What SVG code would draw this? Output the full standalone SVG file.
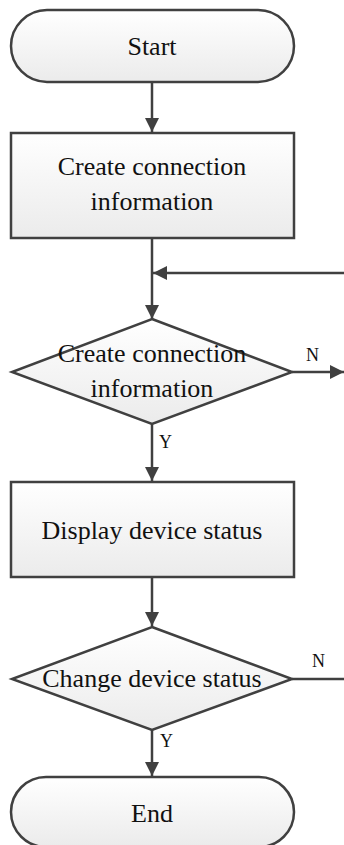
<svg xmlns="http://www.w3.org/2000/svg" width="344" height="845" viewBox="0 0 344 845">
<defs>
<linearGradient id="g" x1="0" y1="0" x2="0" y2="1">
<stop offset="0" stop-color="#ffffff"/>
<stop offset="1" stop-color="#ebebeb"/>
</linearGradient>
<marker id="ah" markerUnits="userSpaceOnUse" markerWidth="16" markerHeight="16" viewBox="0 0 16 16" refX="15" refY="8" orient="auto">
<path d="M1,1 L15,8 L1,15 Z" fill="#404040"/>
</marker>
<style>
.shape{fill:url(#g);stroke:#404040;stroke-width:2.5}
.t{font-family:"Liberation Serif","Times New Roman",serif;font-size:26px;fill:#111;text-anchor:middle}
.l{font-family:"Liberation Serif","Times New Roman",serif;font-size:18px;fill:#111}
.c{fill:none;stroke:#404040;stroke-width:2.5}
</style>
</defs>
<g id="connectors">
<line class="c" x1="152" y1="82" x2="152" y2="132" marker-end="url(#ah)"/>
<line class="c" x1="152" y1="238" x2="152" y2="319" marker-end="url(#ah)"/>
<line class="c" x1="344" y1="273" x2="153" y2="273" marker-end="url(#ah)"/>
<line class="c" x1="292" y1="372" x2="344" y2="372" marker-end="url(#ah)"/>
<line class="c" x1="152" y1="424" x2="152" y2="481" marker-end="url(#ah)"/>
<line class="c" x1="152" y1="577" x2="152" y2="626" marker-end="url(#ah)"/>
<line class="c" x1="292" y1="679" x2="344" y2="679"/>
<line class="c" x1="152" y1="730" x2="152" y2="776" marker-end="url(#ah)"/>
<text class="l" x="306" y="361">N</text>
<text class="l" x="159" y="448">Y</text>
<text class="l" x="312" y="667">N</text>
<text class="l" x="160" y="747">Y</text>
</g>
<g id="start">
<rect class="shape" x="11" y="10" width="283" height="72" rx="36" ry="36"/>
<text class="t" x="152" y="55">Start</text>
</g>
<g id="create">
<rect class="shape" x="11" y="133" width="283" height="105"/>
<text class="t" x="152" y="175">Create connection</text>
<text class="t" x="152" y="210">information</text>
</g>
<g id="decision1">
<polygon class="shape" points="152,319 292,372 152,424 12,372"/>
<text class="t" x="152" y="362">Create connection</text>
<text class="t" x="152" y="397">information</text>
</g>
<g id="display">
<rect class="shape" x="11" y="482" width="283" height="95"/>
<text class="t" x="152" y="539">Display device status</text>
</g>
<g id="decision2">
<polygon class="shape" points="152,627 292,679 152,730 12,679"/>
<text class="t" x="152" y="687">Change device status</text>
</g>
<g id="end">
<rect class="shape" x="11" y="777" width="283" height="70" rx="35" ry="35"/>
<text class="t" x="152" y="822">End</text>
</g>
</svg>
